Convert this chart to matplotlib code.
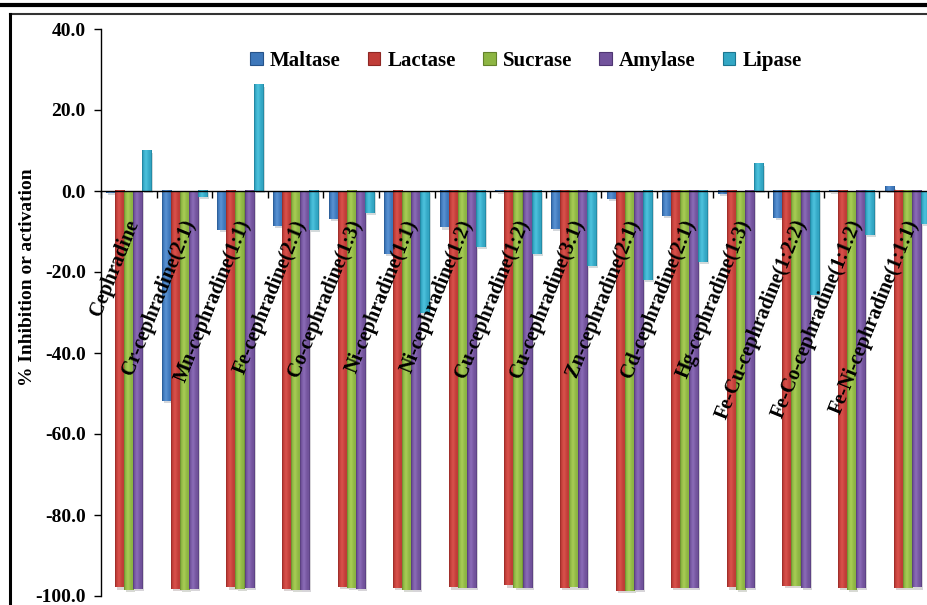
import matplotlib
matplotlib.use("Agg")
import matplotlib.pyplot as plt
import numpy as np
from matplotlib.colors import LinearSegmentedColormap
from matplotlib.lines import Line2D
from matplotlib.patches import Patch
import matplotlib.patheffects as pe

plt.rcParams['font.family'] = 'Liberation Serif'
plt.rcParams['font.weight'] = 'bold'
plt.rcParams['axes.unicode_minus'] = False

categories = ["Cephradine", "Cr-cephradine(2:1)", "Mn-cephradine(1:1)", "Fe-cephradine(2:1)",
              "Co-cephradine(1:3)", "Ni-cephradine(1:1)", "Ni-cephradine(1:2)", "Cu-cephradine(1:2)",
              "Cu-cephradine(3:1)", "Zn-cephradine(2:1)", "Cd-cephradine(2:1)", "Hg-cephradine(1:3)",
              "Fe-Cu-cephradine(1:2:2)", "Fe-Co-cephradine(1:1:2)", "Fe-Ni-cephradine(1:1:1)"]

maltase = [-0.4, -51.9, -9.6, -8.6, -6.9, -15.5, -9.0, -0.3, -9.4, -1.9, -6.2, -0.8, -6.7, -0.3, 1.0]
lactase = [-97.9, -98.2, -97.9, -98.2, -97.7, -98.1, -97.9, -97.4, -98.1, -98.7, -98.1, -97.9, -97.6, -98.1, -98.1]
sucrase = [-98.4, -98.4, -98.2, -98.5, -98.1, -98.4, -98.1, -98.1, -97.9, -98.7, -98.1, -98.4, -97.6, -98.4, -98.1]
amylase = [-98.2, -98.2, -98.1, -98.5, -98.2, -98.4, -98.1, -98.1, -98.1, -98.4, -98.1, -98.1, -98.1, -98.1, -97.9]
lipase = [10.0, -1.5, 26.2, -9.7, -5.4, -30.1, -13.9, -15.6, -18.4, -22.0, -17.6, 6.7, -25.7, -10.9, -8.1]

series = [("Maltase", maltase), ("Lactase", lactase), ("Sucrase", sucrase),
          ("Amylase", amylase), ("Lipase", lipase)]

# (edge, highlight, body) colours for the bevelled bars
shades = [("#26538a", "#5a93d4", "#3d77ba"),
          ("#8e2724", "#d9524c", "#c03d38"),
          ("#63812a", "#a9cd55", "#8db543"),
          ("#4f3673", "#8c6cb8", "#72539c"),
          ("#1b7690", "#4ec3de", "#33a7c4")]

fig = plt.figure(figsize=(9.27, 6.05), dpi=100)
ax = fig.add_axes([101 / 927, 9 / 605, 834 / 927, 567 / 605])

x = np.arange(len(categories))
w = 0.162
grad = np.linspace(0, 1, 64).reshape(1, -1)
for k, ((name, vals), (dark, light, body)) in enumerate(zip(series, shades)):
    bars = ax.bar(x + (k - 2) * w, vals, w, color=body, label=name, zorder=2,
                  path_effects=[pe.SimplePatchShadow(offset=(1.5, -1.5), alpha=0.18), pe.Normal()])
    cmap = LinearSegmentedColormap.from_list(
        name, [(0, dark), (0.12, body), (0.4, light), (0.75, body), (0.9, body), (1, dark)])
    for b in bars:
        x0, y0 = b.get_x(), b.get_y()
        ax.imshow(grad, cmap=cmap, aspect='auto', zorder=3, interpolation='bilinear',
                  extent=(x0, x0 + b.get_width(), y0, y0 + b.get_height()))

ax.set_xlim(-0.5, len(categories) - 0.5)
ax.set_ylim(-100, 40)
ax.set_yticks(np.arange(-100, 41, 20))
ax.set_yticklabels(["%.1f" % v for v in np.arange(-100, 41, 20)], fontsize=14, fontweight='bold')
ax.set_xticks(np.arange(len(categories) + 1) - 0.5)
ax.set_xticklabels([])
ax.tick_params(axis='y', direction='out', length=5, width=1, pad=6)
ax.tick_params(axis='x', direction='out', length=5, width=1)

ax.spines['top'].set_visible(False)
ax.spines['right'].set_visible(False)
ax.spines['bottom'].set_position(('data', 0))
ax.spines['bottom'].set_zorder(4)
for s in ('left', 'bottom'):
    ax.spines[s].set_linewidth(1)
ax.set_facecolor('none')

# category names sit rotated just under the zero line
for i, name in enumerate(categories):
    ax.text(i + 0.1, -7.3, name, rotation=68, rotation_mode='anchor',
            ha='right', va='center', fontsize=14.5, fontweight='bold', zorder=5)

fig.text(28 / 927, 1 - 277 / 605, "% Inhibition or activation", rotation=90,
         ha='center', va='center', fontsize=14, fontweight='bold')

handles = [Patch(facecolor=s[2], edgecolor=s[0], linewidth=0.8) for s in shades]
ax.legend(handles, [n for n, _ in series], ncol=5, loc='center',
          bbox_to_anchor=((526 - 101) / 834, 1 - (61 - 29) / 567), frameon=False,
          prop={'size': 15, 'weight': 'bold'}, handlelength=0.6, handleheight=0.6,
          handletextpad=0.35, columnspacing=1.3)

# page rule and chart border
fig.add_artist(Line2D([0, 1], [1 - 5 / 605] * 2, color='black', lw=3))
fig.add_artist(Line2D([10 / 927, 1], [1 - 14 / 605] * 2, color='#333333', lw=1.5))
fig.add_artist(Line2D([10 / 927] * 2, [0, 1 - 14 / 605], color='black', lw=2.2))

fig.savefig("out.png", dpi=100)
